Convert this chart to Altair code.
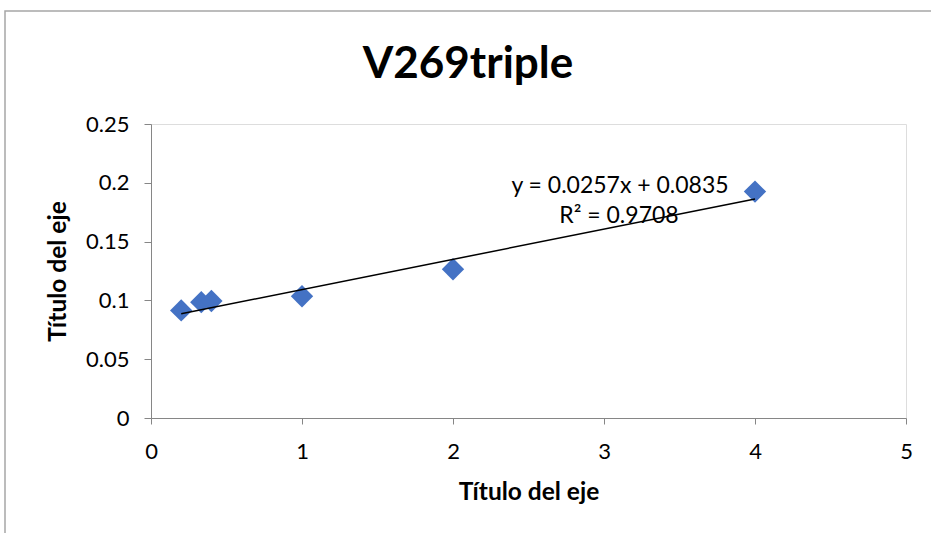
import altair as alt
import pandas as pd

# Measured concentrations and responses
x_vals = [0.2, 0.333, 0.4, 1.0, 2.0, 4.0]
y_vals = [0.0915, 0.0985, 0.0995, 0.1035, 0.1265, 0.1925]

# Linear trendline as reported on the chart
slope = 0.0257
intercept = 0.0835
r_squared = 0.9708

chart_title = "V269triple"
axis_title = "Título del eje"
eq_line1 = f"y = {slope}x + {intercept}"
eq_line2 = f"R² = {r_squared}"

FONT = "Lato"
BLUE = "#4472C4"
AXIS_GRAY = "#868686"

points = pd.DataFrame({"x": x_vals, "y": y_vals})
trend_x = [min(x_vals), max(x_vals)]
trend = pd.DataFrame({"x": trend_x, "y": [slope * v + intercept for v in trend_x]})

x_scale = alt.Scale(domain=[0, 5], nice=False, zero=False)
y_scale = alt.Scale(domain=[0, 0.25], nice=False)

x_axis = alt.Axis(
    values=[0, 1, 2, 3, 4, 5], format="d", grid=False, labelFlush=False,
    domainColor=AXIS_GRAY, tickColor=AXIS_GRAY, tickSize=6,
    labelFont=FONT, labelFontSize=22, labelColor="black",
    labelBaseline="middle", labelPadding=27,
    title=axis_title, titleFont=FONT, titleFontSize=24.5, titleFontWeight="bold",
    titleColor="black", titleBaseline="middle", titleY=74,
)
y_axis = alt.Axis(
    values=[0, 0.05, 0.1, 0.15, 0.2, 0.25], format=".2~f", grid=False, labelFlush=False,
    domainColor=AXIS_GRAY, tickColor=AXIS_GRAY, tickSize=7,
    labelFont=FONT, labelFontSize=22, labelColor="black",
    labelAlign="right", labelBaseline="middle", labelPadding=15,
    title=axis_title, titleFont=FONT, titleFontSize=24.5, titleFontWeight="bold",
    titleColor="black", titleAngle=270, titleAlign="center", titleBaseline="middle",
    titleX=-93, titleY=147,
)

# Outline of the chart area
frame = alt.Chart(pd.DataFrame({"k": [0]})).mark_rect(
    fill="transparent", stroke="#a6a6a6", strokeWidth=1.5
).encode(
    x=alt.value(-146), x2=alt.value(1000), y=alt.value(-113), y2=alt.value(600)
)

scatter = alt.Chart(points).mark_point(
    shape="diamond", filled=True, size=500, color=BLUE, opacity=1
).encode(
    x=alt.X("x:Q", scale=x_scale, axis=x_axis),
    y=alt.Y("y:Q", scale=y_scale, axis=y_axis),
)

line = alt.Chart(trend).mark_line(color="black", strokeWidth=1.5).encode(
    x=alt.X("x:Q", scale=x_scale),
    y=alt.Y("y:Q", scale=y_scale),
)

eq_df = pd.DataFrame({"label": [eq_line1, eq_line2], "px": [469, 468], "py": [62, 92]})
equation = alt.Chart(eq_df).mark_text(
    font=FONT, fontSize=23, color="black", align="center", baseline="middle"
).encode(
    text="label:N", x=alt.X("px:Q", scale=None), y=alt.Y("py:Q", scale=None)
)

# Chart heading, drawn as a text mark above the plot area
heading = alt.Chart(pd.DataFrame({"label": [chart_title]})).mark_text(
    font=FONT, fontSize=44, fontWeight="bold", color="black",
    align="center", baseline="alphabetic"
).encode(
    text="label:N", x=alt.value(317), y=alt.value(-46)
)

chart = alt.layer(frame, scatter, line, equation, heading).properties(
    width=755, height=294,
    autosize=alt.AutoSizeParams(type="none"),
    padding={"left": 151, "top": 124, "right": 25, "bottom": 115},
).configure_view(stroke=None).configure(background="white")

chart.save("out.html", embed_options={"renderer": "svg", "actions": False})
